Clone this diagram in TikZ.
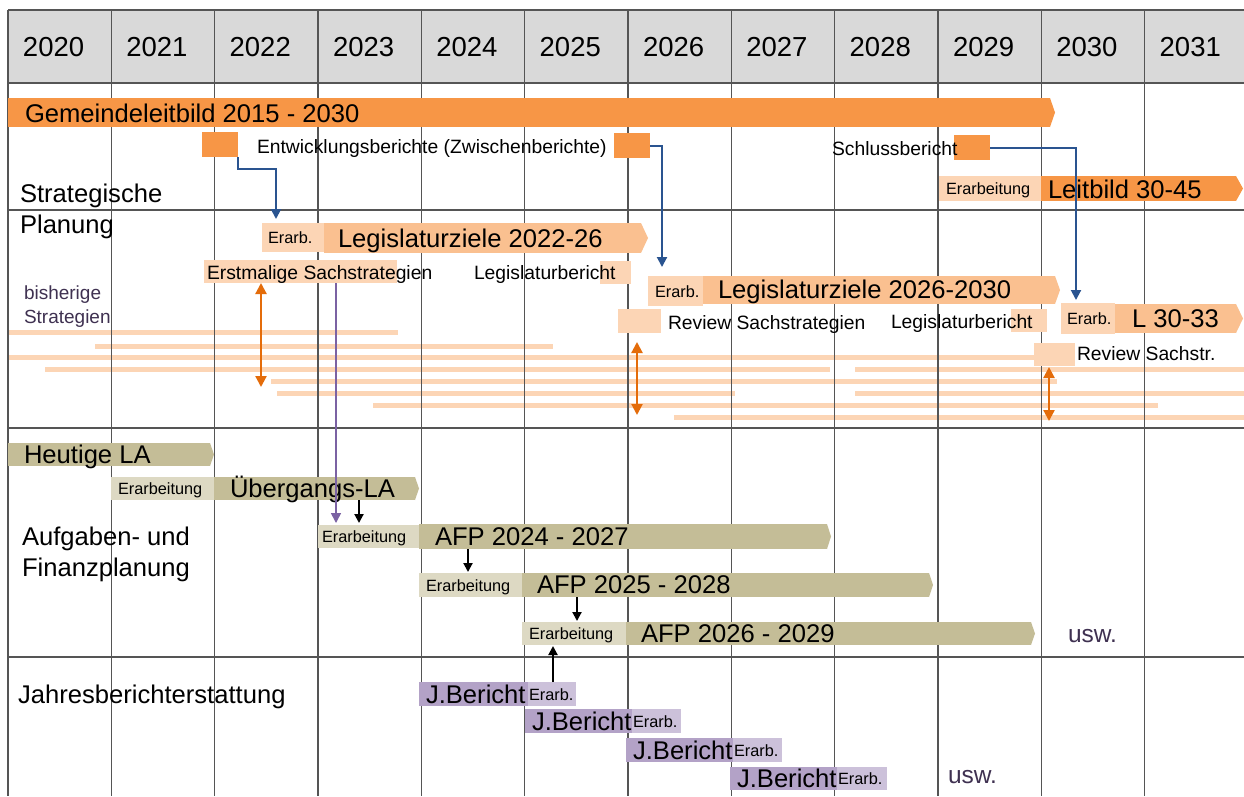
\documentclass[tikz,border=0pt]{standalone}
\usepackage{fontspec}
\setmainfont{Liberation Sans}
\usetikzlibrary{calc,arrows.meta}
\definecolor{orD}{HTML}{F79646}
\definecolor{orM}{HTML}{FAC090}
\definecolor{orL}{HTML}{FCD5B5}
\definecolor{kh}{HTML}{C4BD97}
\definecolor{khL}{HTML}{DDD9C3}
\definecolor{puM}{HTML}{B3A2C7}
\definecolor{puL}{HTML}{CCC1DA}
\definecolor{gridc}{HTML}{555555}
\definecolor{headc}{HTML}{D9D9D9}
\definecolor{orA}{HTML}{E46C0A}
\definecolor{blueA}{HTML}{2A5490}
\definecolor{purA}{HTML}{7B62A3}
\definecolor{txtP}{HTML}{3F3151}
\newcommand\fsL{\fontsize{25.6}{30}\selectfont}
\newcommand\fsM{\fontsize{19.3}{23}\selectfont}
\newcommand\fsS{\fontsize{16.3}{19}\selectfont}
\newcommand\fsY{\fontsize{27.5}{32}\selectfont}
\newcommand\fsU{\fontsize{24.5}{29}\selectfont}
\newcommand\fsB{\fontsize{19}{22}\selectfont}
\newcommand\bx[6]{\node[bar,fill=#6,minimum width={#4-#2},minimum height={#5-#3}] (#1) at (#2,#3) {};}
\newcommand\tp[3]{\fill[#3] (#1.north east) -- ($(#1.east)+(#2,0)$) -- (#1.south east) -- cycle;}
\begin{document}
\begin{tikzpicture}[x=1pt,y=-1pt,
  bar/.style={rectangle,inner sep=0pt,outer sep=0pt,anchor=north west,draw=none},
  lbl/.style={anchor=base west,inner sep=0pt,outer sep=0pt},
  gridline/.style={draw=gridc,line width=1.6pt},
  stratline/.style={draw=orL,line width=5pt},
  bluearr/.style={draw=blueA,line width=2pt,-{Triangle[width=10pt,length=10pt]}},
  orarr/.style={draw=orA,line width=2.2pt,{Triangle[width=11pt,length=11pt]}-{Triangle[width=11pt,length=11pt]}},
  purarr/.style={draw=purA,line width=1.6pt,-{Triangle[width=10pt,length=10pt]}},
  blkarr/.style={draw=black,line width=2pt,-{Triangle[width=9pt,length=9pt]}}
]
\useasboundingbox (0,0) rectangle (1244,796);
\fill[white] (0,0) rectangle (1244,796);
\fill[headc] (8,10) rectangle (1244,83);
% strategy lines
\foreach \a/\b/\y in {9/398/332, 95/553/346, 9/1035/357, 45/830/369, 855/1244/369, 271/1057/381, 277/735/393, 855/1244/393, 373/1158/405, 674/1244/417}
  \draw[stratline] (\a,\y) -- (\b,\y);
% grid
\foreach \i in {0,...,11} \draw[gridline] ({8+103.333*\i},10) -- ({8+103.333*\i},796);
\foreach \y in {10,83,210,428,657} \draw[gridline] (8,\y) -- (1244,\y);
% years
\foreach \yr [count=\i from 0] in {2020,...,2031}
  \node[lbl,font=\fsY] (y\yr) at ({23+103.333*\i},56) {\yr};
% Strategische Planung
\bx{gl}{8}{98}{1050}{127}{orD} \tp{gl}{5}{orD}
\node[lbl,font=\fsL] (glt) at (25,122) {Gemeindeleitbild 2015 - 2030};
\bx{e1}{202}{132}{238}{157}{orD}
\bx{e2}{614}{133}{650}{158}{orD}
\bx{e3}{954}{135}{990}{160}{orD}
\node[lbl,font=\fsM] (ebt) at (257,153) {Entwicklungsberichte (Zwischenberichte)};
\node[lbl,font=\fsM] (sbt) at (832,155) {Schlussbericht};
\node[lbl,font=\fsL] (sp1) at (20,202) {Strategische};
\node[lbl,font=\fsL] (sp2) at (20,233) {Planung};
\bx{lbe}{939}{176}{1041}{201}{orL}
\bx{lb}{1041}{176}{1236}{201}{orD} \tp{lb}{7}{orD}
\node[lbl,font=\fsS] (lbet) at (946,194) {Erarbeitung};
\node[lbl,font=\fsL] (lbt) at (1048,198) {Leitbild 30-45};
\bx{lz1e}{262}{223}{324}{252}{orL}
\bx{lz1}{324}{223}{641}{253}{orM} \tp{lz1}{7}{orM}
\node[lbl,font=\fsS] (lz1et) at (268,243) {Erarb.};
\node[lbl,font=\fsL] (lz1t) at (338,247) {Legislaturziele 2022-26};
\bx{ers}{204}{260}{397}{283}{orL}
\node[lbl,font=\fsM] (erst) at (207,279) {Erstmalige Sachstrategien};
\bx{lbr1}{600}{261}{631}{284}{orL}
\node[lbl,font=\fsM] (lbr1t) at (474,279) {Legislaturbericht};
\node[lbl,font=\fsB,text=txtP] (bs1) at (24,299) {bisherige};
\node[lbl,font=\fsB,text=txtP] (bs2) at (24,323) {Strategien};
\bx{lz2e}{648}{276}{703}{306}{orL}
\bx{lz2}{703}{276}{1055}{304}{orM} \tp{lz2}{5}{orM}
\node[lbl,font=\fsS] (lz2et) at (655,297) {Erarb.};
\node[lbl,font=\fsL] (lz2t) at (718,298) {Legislaturziele 2026-2030};
\bx{l3e}{1061}{303}{1115}{334}{orL}
\bx{l3}{1115}{304}{1236}{333}{orM} \tp{l3}{7}{orM}
\node[lbl,font=\fsS] (l3et) at (1067,324) {Erarb.};
\node[lbl,font=\fsL] (l3t) at (1132,327) {L 30-33};
\bx{rv1}{618}{309}{661}{333}{orL}
\node[lbl,font=\fsM] (rv1t) at (668,329) {Review Sachstrategien};
\bx{lbr2}{1011}{309}{1047}{332}{orL}
\node[lbl,font=\fsM] (lbr2t) at (891,328) {Legislaturbericht};
\bx{rv2}{1034}{343}{1075}{366}{orL}
\node[lbl,font=\fsM] (rv2t) at (1077,360) {Review Sachstr.};
% AFP
\bx{hla}{8}{443}{210}{466}{kh} \tp{hla}{4}{kh}
\node[lbl,font=\fsL] (hlat) at (24,463) {Heutige LA};
\bx{ule}{111}{477}{214}{500}{khL}
\bx{ul}{214}{477}{415}{500}{kh} \tp{ul}{4}{kh}
\node[lbl,font=\fsS] (ulet) at (118,494) {Erarbeitung};
\node[lbl,font=\fsL] (ult) at (230,497) {Übergangs-LA};
\node[lbl,font=\fsL] (af1) at (22,545) {Aufgaben- und};
\node[lbl,font=\fsL] (af2) at (22,576) {Finanzplanung};
\bx{a24e}{318}{525}{419}{548}{khL}
\bx{a24}{419}{524}{827}{549}{kh} \tp{a24}{4}{kh}
\node[lbl,font=\fsS] (a24et) at (322,542) {Erarbeitung};
\node[lbl,font=\fsL] (a24t) at (435,545) {AFP 2024 - 2027};
\bx{a25e}{419}{573}{522}{597}{khL}
\bx{a25}{522}{573}{929}{597}{kh} \tp{a25}{4}{kh}
\node[lbl,font=\fsS] (a25et) at (426,591) {Erarbeitung};
\node[lbl,font=\fsL] (a25t) at (537,593) {AFP 2025 - 2028};
\bx{a26e}{522}{622}{626}{645}{khL}
\bx{a26}{626}{622}{1031}{645}{kh} \tp{a26}{4}{kh}
\node[lbl,font=\fsS] (a26et) at (529,639) {Erarbeitung};
\node[lbl,font=\fsL] (a26t) at (641,642) {AFP 2026 - 2029};
\node[lbl,font=\fsU,text=txtP] (usw1) at (1068,642) {usw.};
% Jahresbericht
\node[lbl,font=\fsL] (jbl) at (18,703) {Jahresberichterstattung};
\bx{jb1}{419}{682}{528}{706}{puM} \bx{jb1e}{528}{682}{576}{706}{puL}
\bx{jb2}{525}{709}{632}{733}{puM} \bx{jb2e}{632}{709}{681}{733}{puL}
\bx{jb3}{626}{738}{733}{762}{puM} \bx{jb3e}{733}{738}{782}{762}{puL}
\bx{jb4}{730}{767}{837}{790}{puM} \bx{jb4e}{837}{767}{887}{790}{puL}
\node[lbl,font=\fsL] (jb1t) at (426,703) {J.Bericht};
\node[lbl,font=\fsS] (jb1et) at (529,700) {Erarb.};
\node[lbl,font=\fsL] (jb2t) at (532,730) {J.Bericht};
\node[lbl,font=\fsS] (jb2et) at (633,727) {Erarb.};
\node[lbl,font=\fsL] (jb3t) at (633,759) {J.Bericht};
\node[lbl,font=\fsS] (jb3et) at (734,756) {Erarb.};
\node[lbl,font=\fsL] (jb4t) at (737,787) {J.Bericht};
\node[lbl,font=\fsS] (jb4et) at (838,784) {Erarb.};
\node[lbl,font=\fsU,text=txtP] (usw2) at (948,783) {usw.};
% arrows
\draw[bluearr] (e1.south east) -- ++(0,12) -| ($(lz1e.north west)+(14,-4)$);
\draw[bluearr] (e2.east) -| ($(lz2e.north west)+(14,-9)$);
\draw[bluearr] (e3.east) -| ($(l3e.north west)+(15,-3)$);
\coordinate (o1b) at (261,387);
\coordinate (o2b) at (637,415);
\coordinate (o3b) at (1049,421);
\draw[orarr] ($(ers.south west)+(57,0)$) -- (o1b);
\draw[orarr] ($(rv1.south west)+(19,9)$) -- (o2b);
\draw[orarr] ($(rv2.south west)+(15,1)$) -- (o3b);
\draw[purarr] ($(ers.south west)+(132,0)$) -- ($(a24e.north west)+(18,-2)$);
\draw[blkarr] ($(ul.south west)+(145,0)$) -- ($(a24e.north west)+(41,-2)$);
\draw[blkarr] ($(a24.south west)+(49,0)$) -- ($(a25e.north west)+(49,-1)$);
\draw[blkarr] ($(a25.south west)+(55,0)$) -- ($(a26e.north west)+(55,-1)$);
\draw[blkarr] ($(jb1e.north west)+(25,0)$) -- ($(a26e.south west)+(31,1)$);
\end{tikzpicture}
\end{document}
